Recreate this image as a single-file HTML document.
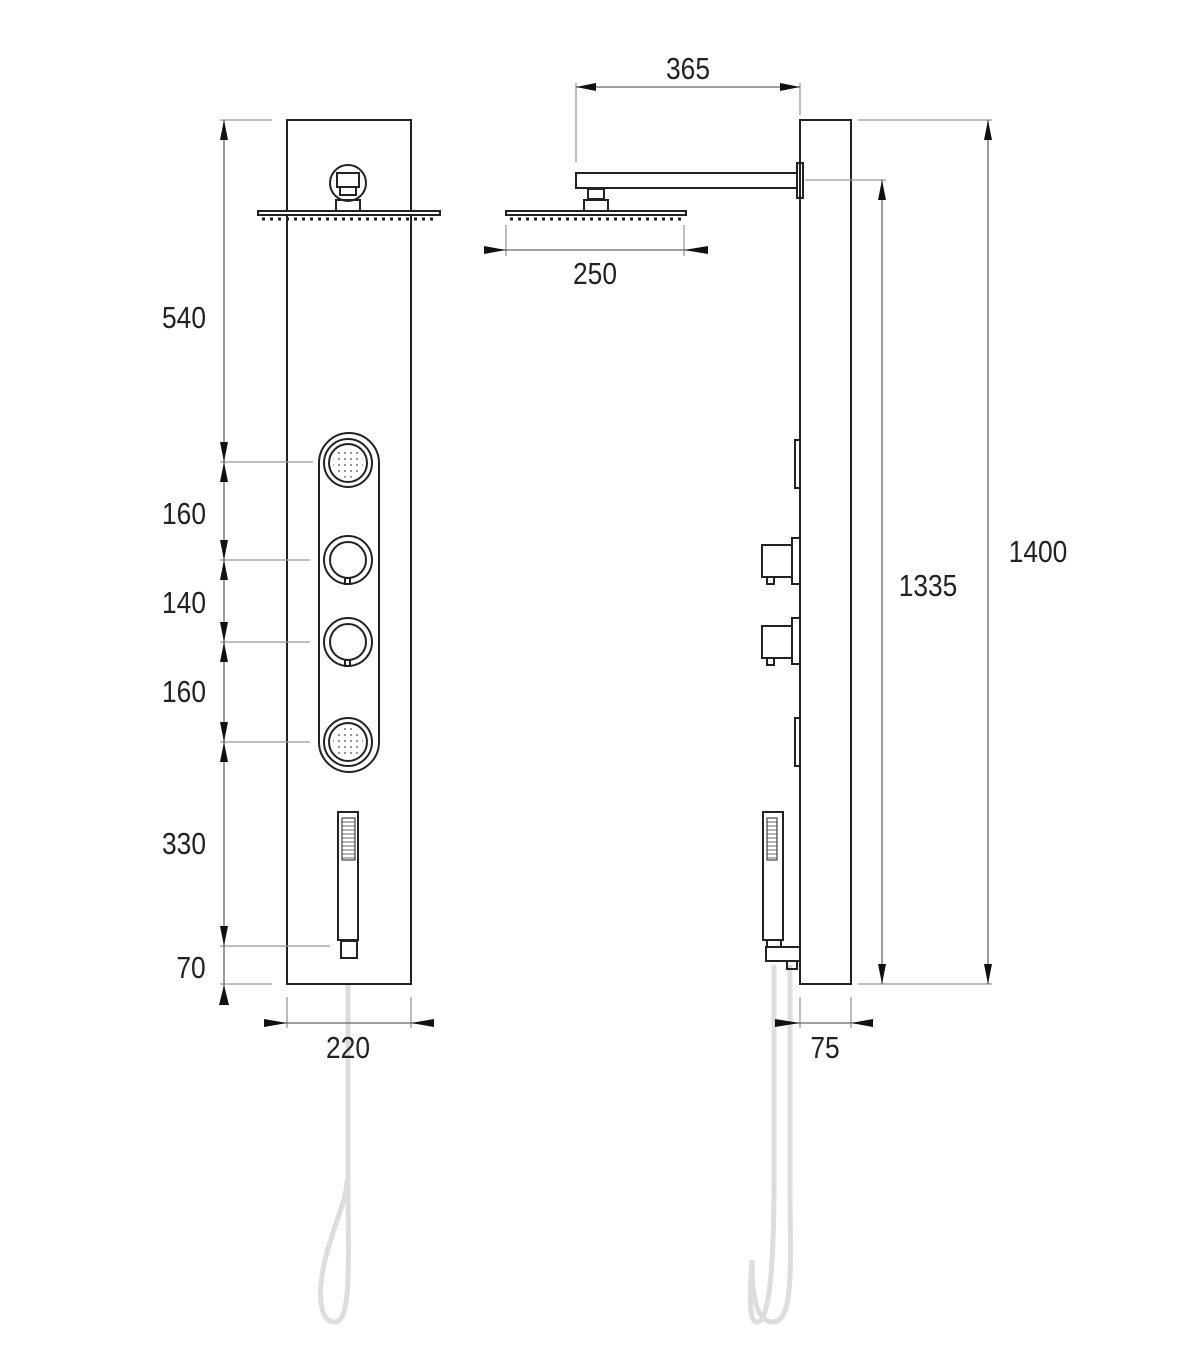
<!DOCTYPE html>
<html><head><style>
html,body{margin:0;padding:0;background:#fff;}
svg{display:block}
text{font-family:"Liberation Sans",sans-serif;font-size:31px;fill:#222;}
</style></head><body>
<svg width="1200" height="1372" viewBox="0 0 1200 1372" xmlns="http://www.w3.org/2000/svg">
<defs>
<pattern id="dots" width="6" height="6" patternUnits="userSpaceOnUse"><circle cx="3" cy="3" r="1.1" fill="#888"/></pattern>
<pattern id="grill" width="6" height="4" patternUnits="userSpaceOnUse"><line x1="0" y1="2" x2="6" y2="2" stroke="#666" stroke-width="1"/></pattern>
<marker id="a" viewBox="0 0 20 10" refX="20" refY="5" markerWidth="20" markerHeight="10" orient="auto-start-reverse" markerUnits="userSpaceOnUse"><path d="M0,1 L20,5 L0,9z" fill="#111"/></marker>
</defs>
<!-- hoses -->
<g fill="none" stroke="#ddd" stroke-width="5">
<path d="M348,960 L348,1180 C348,1260 352,1322 335,1322 C318,1322 318,1290 325,1260 C335,1220 347,1200 347,1180"/>
<path d="M774,965 L774,1180 C774,1260 770,1322 757,1322 C748,1322 750,1290 752,1260"/>
<path d="M790,965 L790,1180 C790,1260 795,1322 773,1322 C752,1322 752,1280 752,1260"/>
</g>
<g stroke="#222" stroke-width="2" fill="none">
<rect x="287" y="120" width="124" height="864" fill="#fff"/>
<circle cx="348" cy="183" r="18" fill="#fff"/>
<rect x="337" y="173" width="22" height="14"/>
<rect x="340" y="187" width="16" height="8"/>
<rect x="336" y="200" width="24" height="11"/>
<rect x="258" y="211" width="182" height="4" fill="#fff"/>
<rect x="319" y="433" width="60" height="339" rx="30"/>
<circle cx="348" cy="463" r="24"/><circle cx="348" cy="463" r="19"/>
<circle cx="348" cy="742" r="24"/><circle cx="348" cy="742" r="19"/>
<circle cx="348" cy="560" r="24"/><circle cx="348" cy="560" r="18"/>
<circle cx="348" cy="642" r="24"/><circle cx="348" cy="642" r="18"/>
<rect x="345" y="578" width="5" height="6"/><rect x="345" y="660" width="5" height="6"/>
<rect x="338" y="812" width="20" height="128"/>
<rect x="342" y="818" width="13" height="42" stroke-width="1" fill="url(#grill)"/>
<rect x="341" y="941" width="16" height="17"/>
<rect x="800" y="120" width="51" height="864" fill="#fff"/>
<rect x="576" y="173" width="221" height="15"/>
<rect x="797" y="163" width="6" height="35"/>
<rect x="588" y="189" width="16" height="10"/>
<rect x="584" y="200" width="24" height="11"/>
<rect x="506" y="211" width="180" height="4"/>
<rect x="795" y="440" width="5" height="48"/>
<rect x="795" y="718" width="5" height="48"/>
<rect x="792" y="538" width="8" height="46"/><rect x="762" y="545" width="30" height="32"/><rect x="767" y="577" width="7" height="7"/>
<rect x="792" y="618" width="8" height="46"/><rect x="762" y="626" width="30" height="32"/><rect x="767" y="658" width="7" height="7"/>
<rect x="763" y="812" width="20" height="128"/>
<rect x="767" y="818" width="10" height="42" stroke-width="1" fill="url(#grill)"/>
<rect x="767" y="940" width="14" height="7"/>
<rect x="766" y="947" width="34" height="14"/>
<rect x="787" y="961" width="10" height="8"/>
</g>
<circle cx="348" cy="463" r="15" fill="url(#dots)"/>
<circle cx="348" cy="742" r="15" fill="url(#dots)"/>
<g stroke="#222" stroke-width="3" stroke-dasharray="3 5">
<line x1="262" y1="219" x2="438" y2="219"/>
<line x1="510" y1="219" x2="684" y2="219"/>
</g>
<g stroke="#999" stroke-width="1.3" fill="none">
<line x1="220" y1="120" x2="272" y2="120"/>
<line x1="220" y1="462" x2="313" y2="462"/>
<line x1="220" y1="560" x2="310" y2="560"/>
<line x1="220" y1="642" x2="310" y2="642"/>
<line x1="220" y1="742" x2="310" y2="742"/>
<line x1="220" y1="946" x2="330" y2="946"/>
<line x1="220" y1="984" x2="272" y2="984"/>
<line x1="287" y1="997" x2="287" y2="1028"/><line x1="411" y1="997" x2="411" y2="1028"/>
<line x1="800" y1="997" x2="800" y2="1028"/><line x1="851" y1="997" x2="851" y2="1028"/>
<line x1="576" y1="83" x2="576" y2="162"/><line x1="800" y1="83" x2="800" y2="115"/>
<line x1="506" y1="225" x2="506" y2="256"/><line x1="684" y1="225" x2="684" y2="256"/>
<line x1="858" y1="120" x2="992" y2="120"/>
<line x1="805" y1="180" x2="886" y2="180"/>
<line x1="858" y1="984" x2="992" y2="984"/>
</g>
<g stroke="#666" stroke-width="1.3" fill="none">
<line x1="224" y1="120" x2="224" y2="462" marker-start="url(#a)" marker-end="url(#a)"/>
<line x1="224" y1="462" x2="224" y2="560" marker-start="url(#a)" marker-end="url(#a)"/>
<line x1="224" y1="560" x2="224" y2="642" marker-start="url(#a)" marker-end="url(#a)"/>
<line x1="224" y1="642" x2="224" y2="742" marker-start="url(#a)" marker-end="url(#a)"/>
<line x1="224" y1="742" x2="224" y2="946" marker-start="url(#a)" marker-end="url(#a)"/>
<line x1="224" y1="946" x2="224" y2="1005"/>
<path d="M219,1005 L224,985 L229,1005z" fill="#111" stroke="none"/>
<line x1="264" y1="1023" x2="434" y2="1023"/>
<path d="M264,1019 L287,1023 L264,1027z M434,1019 L411,1023 L434,1027z" fill="#111" stroke="none"/>
<line x1="775" y1="1023" x2="873" y2="1023"/>
<path d="M775,1019 L800,1023 L775,1027z M873,1019 L851,1023 L873,1027z" fill="#111" stroke="none"/>
<line x1="484" y1="250" x2="708" y2="250"/>
<path d="M484,246 L506,250 L484,254z M708,246 L684,250 L708,254z" fill="#111" stroke="none"/>
<line x1="576" y1="87" x2="800" y2="87" marker-start="url(#a)" marker-end="url(#a)"/>
<line x1="988" y1="120" x2="988" y2="984" marker-start="url(#a)" marker-end="url(#a)"/>
<line x1="882" y1="180" x2="882" y2="984" marker-start="url(#a)" marker-end="url(#a)"/>
</g>
<g text-anchor="middle">
<text x="184" y="328" transform="translate(184 0) scale(0.85 1) translate(-184 0)">540</text>
<text x="184" y="524" transform="translate(184 0) scale(0.85 1) translate(-184 0)">160</text>
<text x="184" y="613" transform="translate(184 0) scale(0.85 1) translate(-184 0)">140</text>
<text x="184" y="702" transform="translate(184 0) scale(0.85 1) translate(-184 0)">160</text>
<text x="184" y="854" transform="translate(184 0) scale(0.85 1) translate(-184 0)">330</text>
<text x="191" y="978" transform="translate(191 0) scale(0.85 1) translate(-191 0)">70</text>
<text x="348" y="1058" transform="translate(348 0) scale(0.85 1) translate(-348 0)">220</text>
<text x="825" y="1058" transform="translate(825 0) scale(0.85 1) translate(-825 0)">75</text>
<text x="595" y="284" transform="translate(595 0) scale(0.85 1) translate(-595 0)">250</text>
<text x="688" y="79" transform="translate(688 0) scale(0.85 1) translate(-688 0)">365</text>
<text x="928" y="596" transform="translate(928 0) scale(0.85 1) translate(-928 0)">1335</text>
<text x="1038" y="562" transform="translate(1038 0) scale(0.85 1) translate(-1038 0)">1400</text>
</g>
</svg>
</body></html>
